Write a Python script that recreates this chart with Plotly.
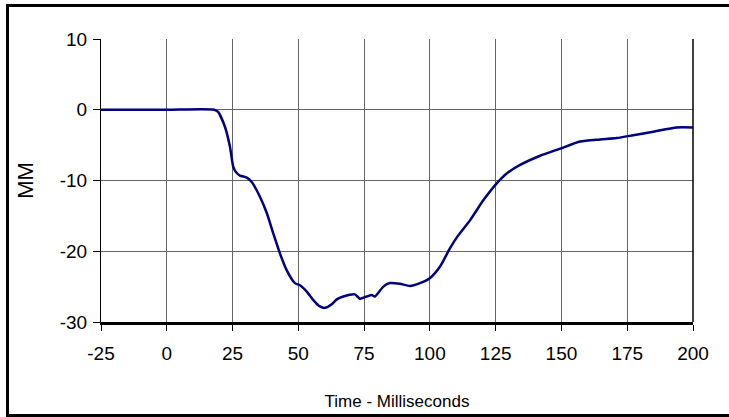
import plotly.graph_objects as go

# values
time_ms = [-25, 0, 18, 19.5, 22.1, 24.0, 25.3, 26.5, 27.8, 30.4, 32.3, 35.4, 38.0, 40.5,
           43.0, 45.6, 48.7, 50.6, 53.2, 55.7, 58.2, 60.1, 62.7, 64.6, 67.1, 71.5,
           73.4, 76.0, 77.9, 79.1, 82.3, 84.8, 88.6, 92.4, 96.2, 100.0, 103.8,
           107.6, 110.5, 115.3, 120.3, 125.4, 129.2, 134.3, 141.9, 149.5, 157.1,
           164.7, 171.0, 177.3, 184.9, 193.8, 200.0]
displacement_mm = [0, 0, 0, -0.3, -2.4, -5.2, -8.1, -8.9, -9.3, -9.6, -10.2, -12.3, -14.6, -17.5,
                   -20.3, -22.7, -24.5, -24.8, -25.7, -26.9, -27.8, -28.0, -27.5, -26.8, -26.4, -26.1,
                   -26.7, -26.4, -26.2, -26.4, -25.0, -24.5, -24.6, -24.9, -24.5, -23.8, -22.2,
                   -19.6, -17.9, -15.6, -12.8, -10.4, -9.0, -7.8, -6.5, -5.5, -4.5,
                   -4.2, -4.0, -3.6, -3.1, -2.5, -2.5]

x_ticks = [-25, 0, 25, 50, 75, 100, 125, 150, 175, 200]
x_labels = ["-25", "0", "25", "50", "75", "100", "125", "150", "175", "200"]
y_ticks = [-30, -20, -10, 0, 10]
y_labels = ["-30", "-20", "-10", "0", "10"]

font = "Liberation Sans Narrow, Arial Narrow, Liberation Sans, Arial"

fig = go.Figure(go.Scatter(x=time_ms, y=displacement_mm, mode="lines",
                           line=dict(color="#000080", width=2.5, shape="spline", smoothing=0.6),
                           showlegend=False))

fig.update_xaxes(range=[-25, 200], tickvals=x_ticks, ticktext=x_labels, ticks="outside",
                 ticklen=6, tickcolor="black", ticklabelstandoff=6, automargin=False,
                 showgrid=True, gridcolor="#666666", gridwidth=1,
                 showline=True, linecolor="black", linewidth=2.5, zeroline=False,
                 tickfont=dict(family=font, size=19, color="black"),
                 title=dict(text="Time - Milliseconds", standoff=33,
                            font=dict(family=font, size=17, color="black")))
fig.update_yaxes(range=[-30, 10], tickvals=y_ticks, ticktext=y_labels, ticks="outside",
                 ticklen=7, tickcolor="black", ticklabelstandoff=2, automargin=False,
                 showgrid=True, gridcolor="#666666", gridwidth=1,
                 showline=True, linecolor="black", linewidth=1, zeroline=False,
                 tickfont=dict(family=font, size=19, color="black"),
                 title=dict(text="MM", standoff=20,
                            font=dict(family="Liberation Sans, Arial", size=22, color="black")))

# right edge of plot area and outer frame
fig.add_shape(type="line", xref="paper", yref="paper", x0=1, x1=1, y0=0, y1=1,
              line=dict(color="black", width=1.5))
fig.add_shape(type="rect", xref="paper", yref="paper",
              x0=(7.5 - 101) / 592, x1=(735 - 101) / 592,
              y0=(322 - 415.5) / 283, y1=(322 - 5.5) / 283,
              line=dict(color="black", width=3))

fig.update_layout(width=729, height=417, margin=dict(l=101, r=36, t=39, b=95),
                  paper_bgcolor="white", plot_bgcolor="white")
fig.write_html("out.html", config={"displayModeBar": False},
               post_script="document.body.style.margin='0';")
